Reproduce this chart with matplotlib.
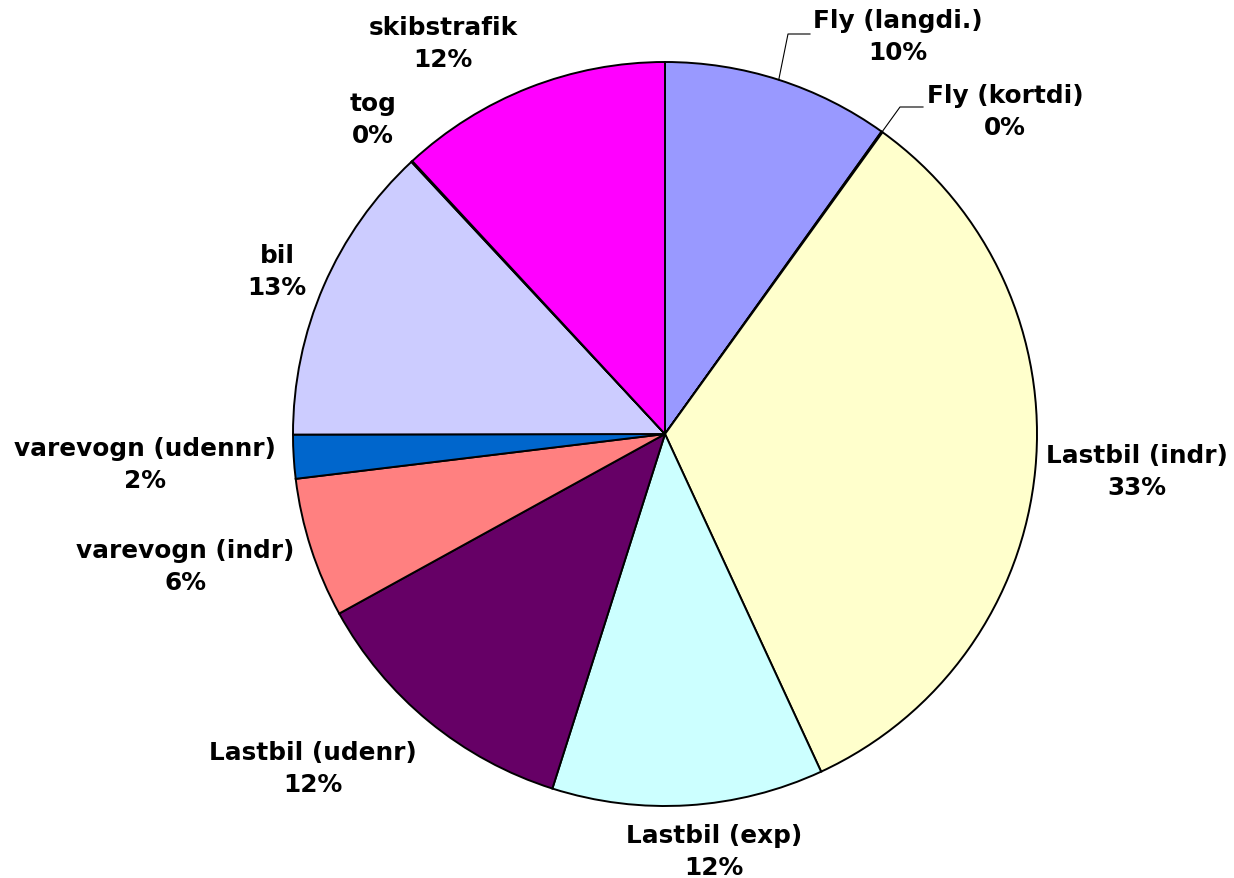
import matplotlib
matplotlib.use("Agg")
import matplotlib.pyplot as plt
import numpy as np

labels = ["Fly (langdi.)", "Fly (kortdi)", "Lastbil (indr)", "Lastbil (exp)",
          "Lastbil (udenr)", "varevogn (indr)", "varevogn (udennr)", "bil",
          "tog", "skibstrafik"]
values = [9.9, 0.05, 33.2, 11.8, 12.1, 6.1, 1.9, 13.1, 0.05, 11.9]
pct_labels = ["10%", "0%", "33%", "12%", "12%", "6%", "2%", "13%", "0%", "12%"]
colors = ["#9999FF", "#993366", "#FFFFCC", "#CCFFFF", "#660066",
          "#FF8080", "#0066CC", "#CCCCFF", "#000080", "#FF00FF"]

W, H = 1234, 879
cx, cy, R = 665, 435, 372

fig = plt.figure(figsize=(W / 100, H / 100), dpi=100)
ax = fig.add_axes([0, 0, 1, 1])

wedges, _ = ax.pie(values, colors=colors, startangle=90, counterclock=False,
                   radius=1.0, center=(0, 0),
                   wedgeprops=dict(edgecolor="black", linewidth=1.4))
ax.set_xlim(-cx / R, (W - cx) / R)
ax.set_ylim(-(H - cy) / R, cy / R)
ax.set_aspect("equal")
ax.axis("off")

# label text positions in pixels (style)
label_px = [(898, 37), (1005, 112), (1137, 472), (714, 852), (313, 769),
            (185, 567), (145, 465), (277, 272), (373, 120), (443, 44)]

def px2d(x, y):
    return ((x - cx) / R, (cy - y) / R)

for lab, pct, (px, py) in zip(labels, pct_labels, label_px):
    x, y = px2d(px, py)
    ax.text(x, y, f"{lab}\n{pct}", ha="center", va="center",
            fontsize=17.8, fontweight="bold", family="DejaVu Sans",
            linespacing=1.38, color="black")

# leader lines for the two Fly labels, starting at wedge mid-angles
def leader(wedge, bend_px, end_px):
    ang = np.deg2rad((wedge.theta1 + wedge.theta2) / 2)
    p0 = (np.cos(ang), np.sin(ang))
    p1 = px2d(*bend_px)
    p2 = px2d(*end_px)
    ax.plot([p0[0], p1[0], p2[0]], [p0[1], p1[1], p2[1]], color="black", lw=0.8)

leader(wedges[0], (788, 35), (810, 35))
leader(wedges[1], (900, 108), (923, 108))

fig.savefig("out.png", dpi=100)
